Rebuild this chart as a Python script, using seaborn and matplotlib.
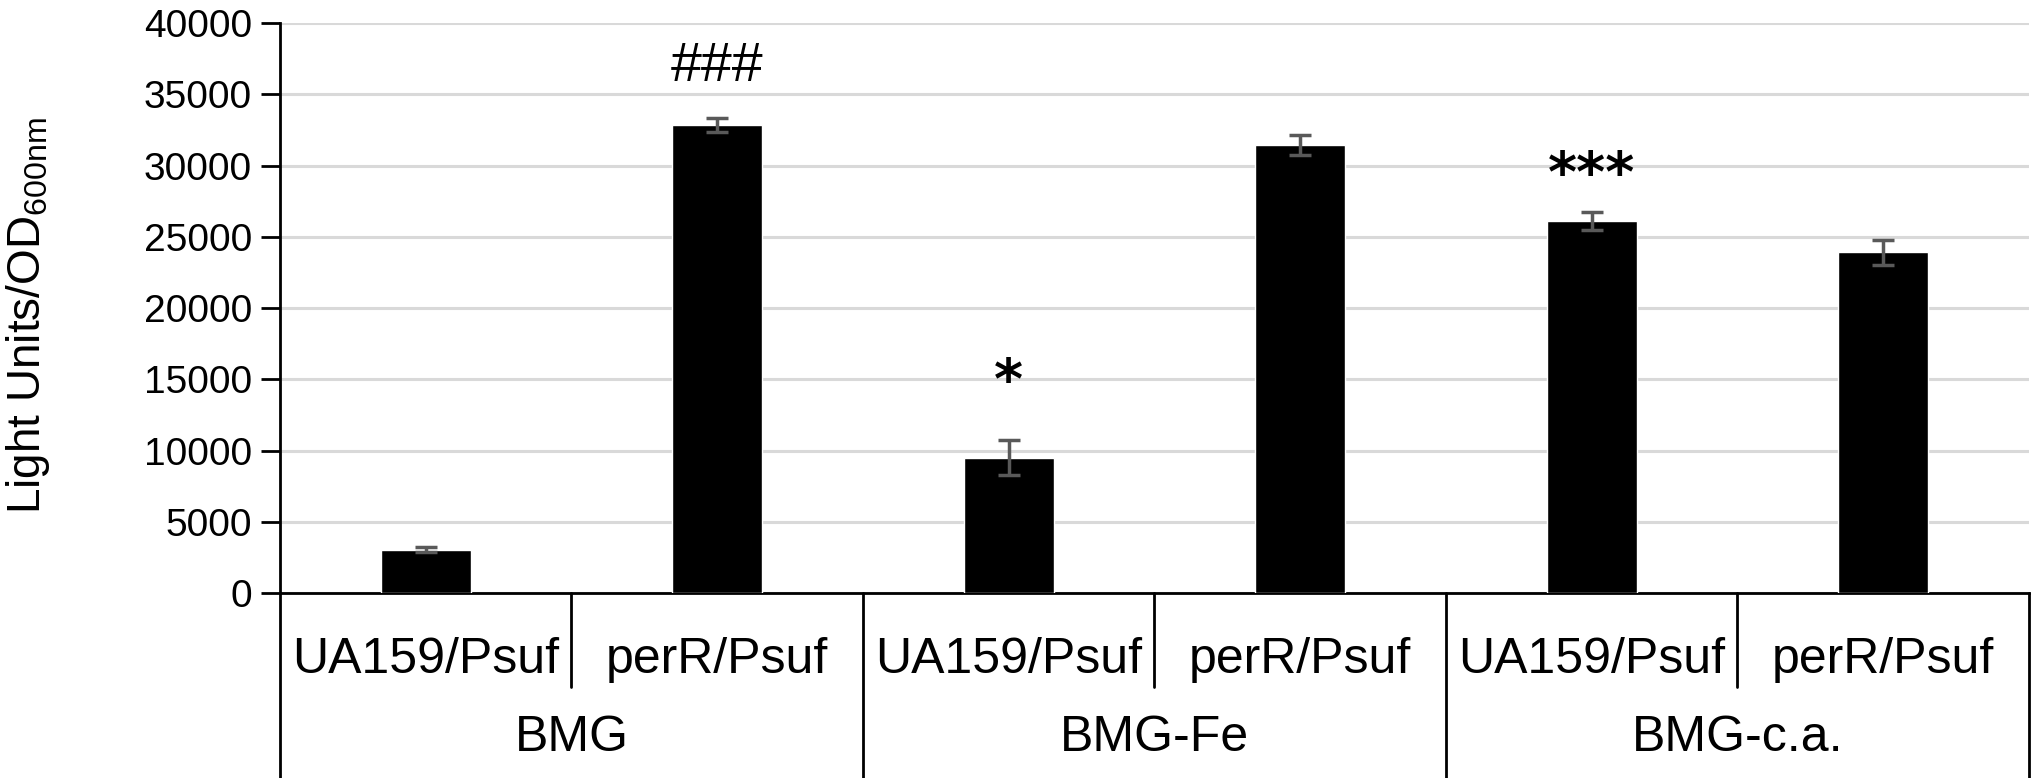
import matplotlib
matplotlib.use("Agg")
import matplotlib.pyplot as plt
import seaborn as sns
import pandas as pd

# === Data ===
media = ["BMG", "BMG", "BMG-Fe", "BMG-Fe", "BMG-c.a.", "BMG-c.a."]
strains = ["UA159/Psuf", "perR/Psuf", "UA159/Psuf", "perR/Psuf", "UA159/Psuf", "perR/Psuf"]
light_units = [3050, 32850, 9500, 31450, 26100, 23900]
errors = [150, 500, 1250, 700, 640, 850]
marks = ["", "###", "*", "", "***", ""]
group_names = ["BMG", "BMG-Fe", "BMG-c.a."]

df = pd.DataFrame({"key": [m + " " + s for m, s in zip(media, strains)],
                   "value": light_units})

sns.set_style("white")
plt.rcParams["font.family"] = ["Liberation Sans", "DejaVu Sans"]
plt.rcParams["text.color"] = "black"
plt.rcParams["axes.edgecolor"] = "black"
plt.rcParams["ytick.color"] = "black"
plt.rcParams["ytick.labelcolor"] = "black"

fig = plt.figure(figsize=(20.33, 7.78), dpi=100)
ax = fig.add_axes([0.1377, 0.2378, 0.8603, 0.7326])

sns.barplot(data=df, x="key", y="value", color="black", saturation=1,
            width=0.31, errorbar=None, ax=ax, zorder=3)
ax.errorbar(range(len(light_units)), light_units, yerr=errors, fmt="none",
            ecolor="#595959", elinewidth=2.5, capsize=8, capthick=2.5, zorder=4)

# === Axes styling ===
ax.set_xlim(-0.5, 5.5)
ax.set_ylim(0, 40000)
ax.set_yticks(range(0, 40001, 5000))
ax.yaxis.grid(True, color="#d9d9d9", linewidth=2.2, zorder=0)
ax.set_axisbelow(True)
for side in ["top", "right"]:
    ax.spines[side].set_visible(False)
ax.spines["left"].set_linewidth(2)
ax.spines["bottom"].set_linewidth(2)
ax.tick_params(axis="y", labelsize=28, length=14, width=2, direction="out", left=True, pad=6)
ax.set_xticks([])
ax.set_xlabel("")
ax.set_ylabel("")

fig.text(0.014, 0.594, r"Light Units/OD$_{\mathregular{600nm}}$", rotation=90,
         ha="center", va="center", fontsize=33)

# === Significance marks ===
offsets = [0, 2600, 2900, 0, 1500, 0]
for i, m in enumerate(marks):
    if not m:
        continue
    if "*" in m:
        ax.text(i, light_units[i] + errors[i] + offsets[i], m, ha="center",
                va="baseline", fontsize=40, fontweight="bold", family="DejaVu Sans")
    else:
        ax.text(i, light_units[i] + errors[i] + offsets[i], m, ha="center",
                va="baseline", fontsize=40)

# === Two-level category axis ===
tr = ax.get_xaxis_transform()
for i, s in enumerate(strains):
    ax.text(i, -0.1175, s, transform=tr, ha="center", va="center", fontsize=36, clip_on=False)
for g, name in enumerate(group_names):
    ax.text(2 * g + 0.5, -0.254, name, transform=tr, ha="center", va="center",
            fontsize=36, clip_on=False)
    ax.plot([2 * g + 0.5, 2 * g + 0.5], [0, -0.165], transform=tr, color="black",
            lw=2, clip_on=False)
for x in [-0.5, 1.5, 3.5, 5.5]:
    ax.plot([x, x], [0, -0.33], transform=tr, color="black", lw=2, clip_on=False)

fig.savefig("out.png", dpi=100)
